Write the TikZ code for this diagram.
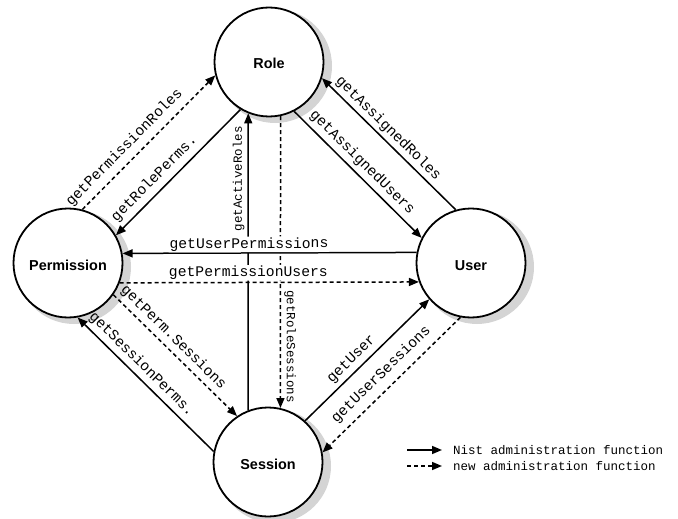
\documentclass[tikz,border=0pt]{standalone}
\usepackage{fontspec}
\setmainfont{Liberation Sans}
\newfontfamily\monofamily{Liberation Mono}
\usetikzlibrary{arrows.meta}

\begin{document}
\begin{tikzpicture}[x=1pt,y=-1pt,
  entity/.style={circle, draw, line width=1.8pt, fill=white,
    minimum size=109pt, inner sep=0pt,
    font=\fontsize{14.4}{16}\selectfont\bfseries,
    text height=1.4em, text depth=0pt},
  backshadow/.style={fill=black!17},
  fn/.style={line width=1.5pt, -{Triangle[length=10pt,width=8pt]}},
  newfn/.style={fn, dash pattern=on 4pt off 3pt},
  lbl/.style={font=\monofamily\fontsize{14.7}{16}\selectfont, inner sep=1pt, sloped},
  vlbl/.style={lbl, font=\monofamily\fontsize{12.5}{14}\selectfont, allow upside down},
  keytext/.style={font=\monofamily\fontsize{12.5}{14}\selectfont, inner sep=0pt, anchor=west}]

\useasboundingbox (0,0) rectangle (678,519);

% grey shadows behind the entity circles
\fill[backshadow] (275,66) circle[radius=57pt];
\fill[backshadow] (74,267) circle[radius=57pt];
\fill[backshadow] (477,267) circle[radius=57pt];
\fill[backshadow] (274,466) circle[radius=57pt];

% entities
\node[entity] (R) at (269,62)  {Role};
\node[entity] (P) at (68,263)  {Permission};
\node[entity] (U) at (471,263) {User};
\node[entity] (S) at (268,462) {Session};

% vertical functions between Session and Role
\draw[fn] (S.111.3) -- node[vlbl, above=2pt, pos=0.78] {getActiveRoles} (R.248.7);
\draw[newfn] (R.282.6) -- node[vlbl, above=2pt, pos=0.79] {getRoleSessions} (S.77.4);

% horizontal functions between User and Permission (labels mask the verticals)
\draw[fn] (U.169.5) -- node[lbl, fill=white, above=0pt, pos=0.57] {getUserPermissions} (P.10.6);
\draw[newfn] (P.339.6) -- node[lbl, fill=white, above=1pt, pos=0.43] {getPermissionUsers} (U.200.4);

% Permission -- Role
\draw[newfn] (P.75.6) -- node[lbl, above=5pt, pos=0.39] {getPermissionRoles} (R.194.4);
\draw[fn] (R.239.1) -- node[lbl, above=4pt, pos=0.62] {getRolePerms.} (P.30.9);

% Role -- User
\draw[fn] (U.106.8) -- node[lbl, above=2pt, pos=0.56] {getAssignedRoles} (R.343.2);
\draw[fn] (R.297) -- node[lbl, above=3pt, pos=0.47] {getAssignedUsers} (U.153);

% Permission -- Session
\draw[newfn] (P.325.5) -- node[lbl, above=3pt, pos=0.42] {getPerm.Sessions} (S.124.5);
\draw[fn] (S.169.3) -- node[lbl, above=3pt, pos=0.59] {getSessionPerms.} (P.280.7);

% Session -- User
\draw[fn] (S.48.6) -- node[lbl, above=3pt, pos=0.44] {getUser} (U.221.4);
\draw[newfn] (U.259.3) -- node[lbl, above=6pt, pos=0.5] {getUserSessions} (S.10.7);

% key
\coordinate (k1a) at (407,450); \coordinate (k1b) at (442,450);
\coordinate (k2a) at (407,466); \coordinate (k2b) at (442,466);
\draw[fn] (k1a) -- (k1b);
\draw[newfn] (k2a) -- (k2b);
\node[keytext] (k1t) at (453,450) {Nist administration function};
\node[keytext] (k2t) at (453,466) {new administration function};
\end{tikzpicture}
\end{document}
